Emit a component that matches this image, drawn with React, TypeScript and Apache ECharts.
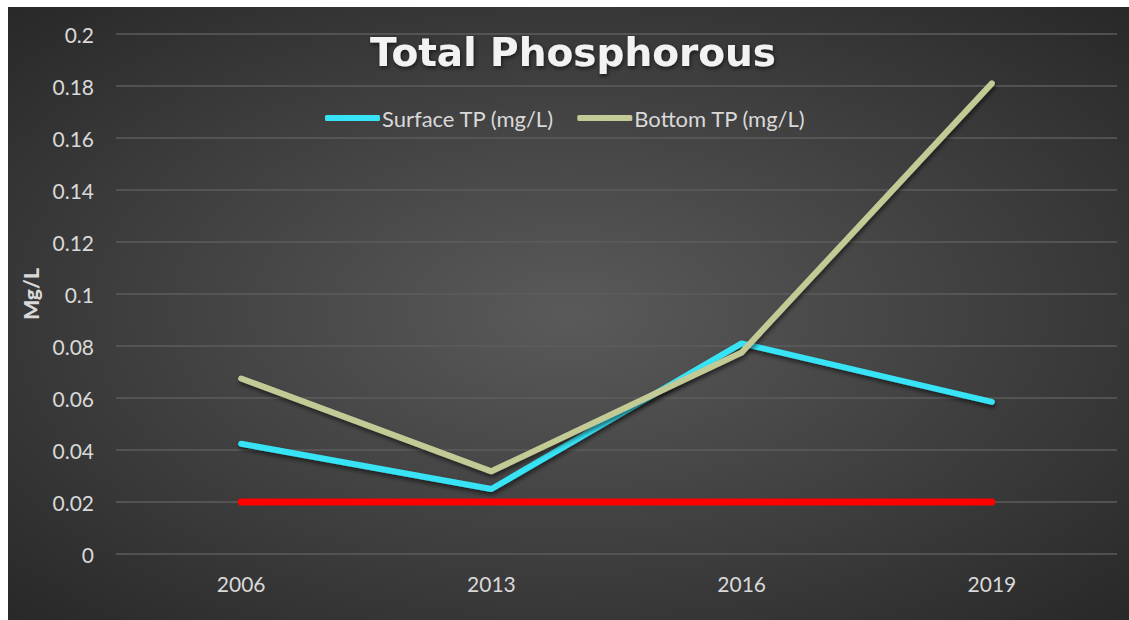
import React, { useEffect, useRef } from "react";
import * as echarts from "echarts";

const years = ["2006", "2013", "2016", "2019"];
const surfaceTP = [0.0424, 0.025, 0.081, 0.0585];
const bottomTP = [0.0675, 0.0318, 0.0775, 0.181];
const standardTP = [0.02, 0.02, 0.02, 0.02];
const yTicks = [0, 0.02, 0.04, 0.06, 0.08, 0.1, 0.12, 0.14, 0.16, 0.18, 0.2];

const FONT = "Lato, 'Open Sans', sans-serif";

export default function App() {
  const ref = useRef<HTMLDivElement>(null);
  useEffect(() => {
    if (!ref.current) return;
    const chart = echarts.init(ref.current, undefined, { renderer: "svg" });
    const shadow = {
      shadowColor: "rgba(0,0,0,0.55)",
      shadowBlur: 4,
      shadowOffsetX: 1,
      shadowOffsetY: 3,
    };
    chart.setOption({
      animation: false,
      backgroundColor: {
        type: "radial",
        x: 0.5,
        y: 0.5,
        r: 0.75,
        colorStops: [
          { offset: 0, color: "#5a5a5a" },
          { offset: 1, color: "#252525" },
        ],
      },
      title: {
        text: "Total Phosphorous",
        left: 357,
        top: 21,
        textStyle: {
          fontFamily: "'DejaVu Sans', sans-serif",
          fontWeight: "bold",
          fontSize: 39,
          color: "#f2f2f2",
          textShadowColor: "rgba(0,0,0,0.6)",
          textShadowBlur: 4,
          textShadowOffsetX: 1,
          textShadowOffsetY: 2,
        },
      },
      legend: {
        data: ["Surface TP (mg/L)", "Bottom TP (mg/L)"],
        top: 95,
        left: 312,
        itemWidth: 55,
        itemHeight: 6,
        itemGap: 23,
        icon: "roundRect",
        textStyle: { fontFamily: FONT, fontSize: 22, color: "#d9d9d9", padding: [0, 0, 0, -3] },
      },
      grid: { left: 108, right: 12, top: 27, bottom: 66 },
      xAxis: {
        type: "category",
        data: years,
        boundaryGap: true,
        axisLine: { show: false },
        axisTick: { show: false },
        axisLabel: { fontFamily: FONT, fontSize: 21, color: "#d9d9d9", margin: 19 },
      },
      yAxis: {
        type: "value",
        min: 0,
        max: 0.2,
        interval: 0.02,
        name: "Mg/L",
        nameLocation: "middle",
        nameGap: 75,
        nameTextStyle: { fontFamily: FONT, fontWeight: 900, fontSize: 21, color: "#d9d9d9" },
        axisLabel: {
          fontFamily: FONT,
          fontSize: 21,
          color: "#d9d9d9",
          margin: 22,
          formatter: (v: number) => {
            const t = yTicks.find((x) => Math.abs(x - v) < 1e-9);
            return String(Number((t ?? v).toFixed(2)));
          },
        },
        splitLine: { lineStyle: { color: "#5c5c5c", width: 1.5 } },
      },
      series: [
        {
          name: "Standard",
          type: "line",
          data: standardTP,
          symbol: "none",
          lineStyle: { color: "#ff0000", width: 7, cap: "round", join: "round" },
          itemStyle: { color: "#ff0000" },
          z: 1,
        },
        {
          name: "Surface TP (mg/L)",
          type: "line",
          data: surfaceTP,
          symbol: "none",
          lineStyle: { color: "#37e3f6", width: 6, cap: "round", join: "round", ...shadow },
          itemStyle: { color: "#37e3f6" },
          z: 2,
        },
        {
          name: "Bottom TP (mg/L)",
          type: "line",
          data: bottomTP,
          symbol: "none",
          lineStyle: { color: "#c3ca96", width: 6, cap: "round", join: "round", ...shadow },
          itemStyle: { color: "#c3ca96" },
          z: 3,
        },
      ],
    });
    return () => chart.dispose();
  }, []);
  return (
    <div
      ref={ref}
      style={{ position: "absolute", left: 8, top: 7, width: 1121, height: 613 }}
    />
  );
}
